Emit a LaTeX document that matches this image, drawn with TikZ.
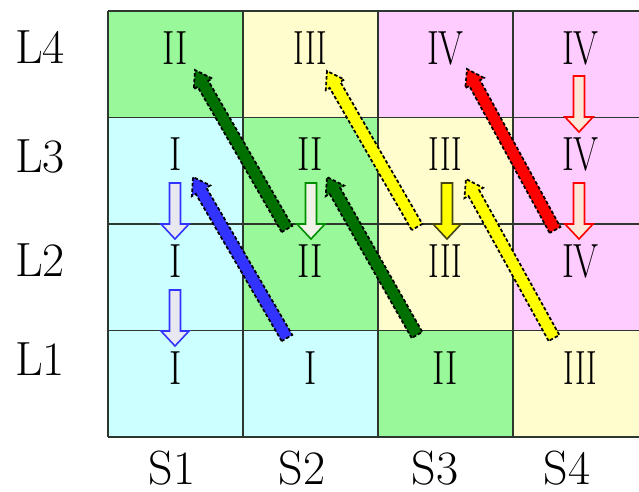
\documentclass[tikz,border=0pt]{standalone}
\usetikzlibrary{calc}
\usepackage{graphicx}
\definecolor{cgreen}{RGB}{153,248,153}
\definecolor{cyell}{RGB}{255,252,206}
\definecolor{cpink}{RGB}{255,204,255}
\definecolor{ccyan}{RGB}{204,255,255}
\definecolor{agreen}{RGB}{0,112,0}
\definecolor{ablue}{RGB}{51,51,255}
\definecolor{ayell}{RGB}{255,255,0}
\definecolor{ared}{RGB}{255,0,0}
\definecolor{gridc}{RGB}{45,55,45}
\definecolor{olive}{RGB}{70,70,20}
\definecolor{dgray}{RGB}{232,232,240}
\definecolor{dwhite}{RGB}{240,242,232}
\definecolor{dpeach}{RGB}{252,232,216}
\newcommand{\rnum}[2]{\scalebox{#1}[1]{#2}}
\newcommand{\diagarrow}[3]{%
  \coordinate (H) at ($(#2)!12pt!(#1)$);
  \draw[diagline, fill=#3] ($(#1)!4.6pt!90:(#2)$) -- ($(H)!4.6pt!90:(#2)$) -- ($(H)!8pt!90:(#2)$) -- (#2)
     -- ($(H)!8pt!-90:(#2)$) -- ($(H)!4.6pt!-90:(#2)$) -- ($(#1)!4.6pt!-90:(#2)$) -- cycle;}
\newcommand{\blockdown}[3]{%
  \draw[downline, #3] (#1-5.5,#2) -- (#1+5.5,#2) -- (#1+5.5,#2+41) -- (#1+14,#2+41)
     -- (#1,#2+56) -- (#1-14,#2+41) -- (#1-5.5,#2+41) -- cycle;}
\begin{document}
\begin{tikzpicture}[x=0.75pt,y=-0.75pt,
  big/.style={font=\fontsize{36}{40}\selectfont, inner sep=0pt},
  diagline/.style={draw=black, line width=1.3pt, dash pattern=on 2.6pt off 1.6pt, line join=miter},
  downline/.style={line width=1.2pt, line join=miter},
  gridline/.style={draw=gridc, line width=1pt}]
\useasboundingbox (0,0) rectangle (639,492);
\clip (0,0) rectangle (639,492);
% cells: row L4
\fill[cgreen] (108,11) rectangle ++(135,106.5);
\fill[cyell]  (243,11) rectangle ++(135,106.5);
\fill[cpink]  (378,11) rectangle ++(135,106.5);
\fill[cpink]  (513,11) rectangle ++(135,106.5);
% L3
\fill[ccyan]  (108,117.5) rectangle ++(135,106.5);
\fill[cgreen] (243,117.5) rectangle ++(135,106.5);
\fill[cyell]  (378,117.5) rectangle ++(135,106.5);
\fill[cpink]  (513,117.5) rectangle ++(135,106.5);
% L2
\fill[ccyan]  (108,224) rectangle ++(135,106.5);
\fill[cgreen] (243,224) rectangle ++(135,106.5);
\fill[cyell]  (378,224) rectangle ++(135,106.5);
\fill[cpink]  (513,224) rectangle ++(135,106.5);
% L1
\fill[ccyan]  (108,330.5) rectangle ++(135,106.5);
\fill[ccyan]  (243,330.5) rectangle ++(135,106.5);
\fill[cgreen] (378,330.5) rectangle ++(135,106.5);
\fill[cyell]  (513,330.5) rectangle ++(135,106.5);
% grid
\foreach \yy in {11,117.5,224,330.5,437} \draw[gridline] (108,\yy) -- (648,\yy);
\foreach \xx in {108,243,378,513,648} \draw[gridline] (\xx,11) -- (\xx,437);
% numerals
\node[big] (n41) at (175.5,48) {\rnum{0.78}{II}};
\node[big] (n42) at (310.5,48) {\rnum{0.67}{III}};
\node[big] (n43) at (445.5,48) {\rnum{0.75}{IV}};
\node[big] (n44) at (580.5,48) {\rnum{0.75}{IV}};
\node[big] (n31) at (175.5,154) {\rnum{0.78}{I}};
\node[big] (n32) at (310.5,154) {\rnum{0.78}{II}};
\node[big] (n33) at (445.5,154) {\rnum{0.67}{III}};
\node[big] (n34) at (580.5,154) {\rnum{0.75}{IV}};
\node[big] (n21) at (175.5,261) {\rnum{0.78}{I}};
\node[big] (n22) at (310.5,261) {\rnum{0.78}{II}};
\node[big] (n23) at (445.5,261) {\rnum{0.67}{III}};
\node[big] (n24) at (580.5,261) {\rnum{0.75}{IV}};
\node[big] (n11) at (175.5,368) {\rnum{0.78}{I}};
\node[big] (n12) at (310.5,368) {\rnum{0.78}{I}};
\node[big] (n13) at (445.5,368) {\rnum{0.78}{II}};
\node[big] (n14) at (580.5,368) {\rnum{0.67}{III}};
% row / column labels
\node[big] (l4) at (40,47) {L4};
\node[big] (l3) at (40,156) {L3};
\node[big] (l2) at (40,260) {L2};
\node[big] (l1) at (40,359) {L1};
\node[big] (s1) at (172,468) {S1};
\node[big] (s2) at (302,468) {S2};
\node[big] (s3) at (435,468) {S3};
\node[big] (s4) at (567,468) {S4};
% down arrows
\blockdown{175}{183}{draw=ablue, fill=dgray}
\blockdown{175}{290}{draw=ablue, fill=dgray}
\blockdown{311}{183}{draw=agreen!80!green, fill=dwhite}
\blockdown{447}{183}{draw=olive, fill=ayell}
\blockdown{579}{76}{draw=ared, fill=dpeach}
\blockdown{579}{183}{draw=ared, fill=dpeach}
% diagonal arrows
\coordinate (bT) at (287,338); \coordinate (bH) at (193,177);
\coordinate (g1T) at (287,229); \coordinate (g1H) at (195,70);
\coordinate (g2T) at (417,335); \coordinate (g2H) at (327,177);
\coordinate (y1T) at (417,227); \coordinate (y1H) at (327,71);
\coordinate (y2T) at (554,338); \coordinate (y2H) at (466,179);
\coordinate (rT) at (555,230); \coordinate (rH) at (467,69);
\diagarrow{bT}{bH}{ablue}
\diagarrow{g1T}{g1H}{agreen}
\diagarrow{g2T}{g2H}{agreen}
\diagarrow{y1T}{y1H}{ayell}
\diagarrow{y2T}{y2H}{ayell}
\diagarrow{rT}{rH}{ared}
\end{tikzpicture}
\end{document}
